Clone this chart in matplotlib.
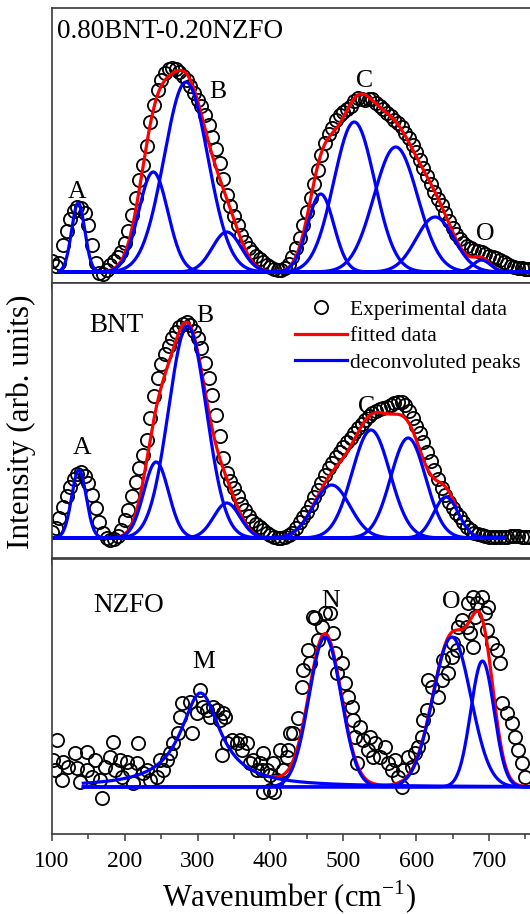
import numpy as np
import matplotlib
matplotlib.use("Agg")
import matplotlib.pyplot as plt
from matplotlib.lines import Line2D
from matplotlib.ticker import MultipleLocator

plt.rcParams['font.family'] = ['Liberation Serif', 'DejaVu Serif']
plt.rcParams['mathtext.fontset'] = 'custom'
plt.rcParams['mathtext.rm'] = 'Liberation Serif'

# wavenumber of the measured points of the two upper spectra (cm-1)
wn = np.arange(100, 756, 5)

# ---- 0.80BNT-0.20NZFO ----
comp_int = [22, 17, 20, 38, 52, 64, 72, 76, 75, 70,
            58, 38, 20, 10, 9, 13, 18, 22, 26, 31,
            40, 52, 68, 85, 103, 118, 137, 161, 178, 193,
            203, 210, 214, 215, 214, 211, 207, 203, 197, 190,
            183, 177, 168, 158, 146, 134, 120, 104, 88, 77,
            67, 58, 48, 41, 35, 31, 27, 24, 21, 18,
            16, 14, 13, 13, 15, 19, 26, 35, 45, 58,
            71, 85, 99, 113, 128, 140, 149, 155, 163, 168,
            171, 174, 177, 182, 185, 184, 183, 184, 184, 180,
            177, 174, 170, 167, 163, 160, 156, 150, 145, 138,
            131, 123, 115, 107, 99, 91, 84, 78, 70, 62,
            55, 49, 44, 40, 37, 35, 33, 32, 31, 29,
            27, 26, 25, 23, 21, 19, 17, 16, 15, 15,
            14, 14]
comp_base = 11
comp_centre = [136, 239, 284, 340, 469, 515, 572, 626, 690]
comp_height = [69, 100, 190, 40, 78, 150, 125, 55, 12]
comp_width = [9, 20, 30, 20, 18, 28, 30, 26, 12]

# ---- BNT ----
bnt_int = [26, 30, 40, 51, 62, 71, 79, 84, 86, 82,
           75, 63, 50, 36, 25, 20, 18, 19, 22, 28,
           38, 48, 62, 76, 90, 103, 118, 140, 162, 180,
           194, 204, 212, 220, 226, 231, 234, 236, 233, 227,
           220, 210, 195, 180, 163, 143, 122, 100, 85, 77,
           70, 62, 54, 48, 42, 37, 34, 31, 28, 25,
           23, 21, 20, 20, 21, 23, 25, 30, 36, 41,
           46, 53, 61, 68, 75, 83, 90, 95, 101, 106,
           111, 116, 120, 125, 130, 134, 138, 142, 145, 147,
           149, 150, 151, 153, 155, 156, 156, 153, 147, 140,
           132, 125, 116, 106, 97, 88, 79, 70, 63, 56,
           50, 45, 41, 36, 31, 28, 25, 24, 23, 22,
           21, 21, 21, 21, 21, 21, 22, 22, 22, 21,
           21, 21]
bnt_base = 20
bnt_centre = [137, 243, 286, 340, 484, 538, 589, 641]
bnt_height = [68, 76, 212, 35, 53, 108, 100, 41]
bnt_width = [10, 17, 26, 18, 25, 26, 24, 17]

# ---- NZFO ----
nzfo_wn = [101.8, 104.1, 106.4, 113.3, 115.6, 122.4, 131.6, 133.9, 138.4, 147.6,
           147.6, 154.5, 159.0, 165.9, 168.2, 172.8, 179.6, 184.2, 186.5, 193.4,
           195.7, 202.5, 207.1, 211.7, 216.3, 218.5, 225.4, 230.0, 234.6, 243.7,
           248.3, 252.9, 257.4, 262.0, 266.6, 273.5, 275.8, 278.0, 289.5, 291.8,
           298.6, 303.2, 307.8, 312.4, 317.0, 321.5, 326.1, 330.7, 333.0, 335.3,
           337.5, 339.8, 346.7, 353.6, 358.1, 360.4, 367.3, 371.9, 376.4, 381.0,
           385.6, 388.0, 390.2, 390.0, 394.8, 399.3, 399.3, 403.9, 405.0, 408.5,
           413.1, 417.6, 422.2, 424.5, 426.8, 431.3, 438.2, 442.8, 445.1, 451.9,
           454.2, 458.5, 461.1, 465.7, 470.2, 474.8, 481.7, 486.3, 488.6, 490.9,
           497.7, 502.3, 506.9, 511.4, 513.7, 516.0, 518.3, 522.9, 527.5, 534.3,
           536.6, 541.2, 543.5, 550.3, 557.2, 561.8, 566.4, 570.9, 575.5, 580.1,
           582.4, 589.2, 593.8, 598.4, 603.0, 607.6, 609.8, 614.4, 616.7, 621.3,
           630.4, 635.0, 637.3, 644.2, 648.8, 651.0, 655.6, 657.9, 662.5, 669.3,
           671.0, 673.9, 678.5, 678.5, 680.8, 683.1, 690.0, 694.5, 696.8, 699.1,
           703.7, 710.5, 715.1, 717.4, 724.3, 731.1, 735.7, 740.3, 744.8, 749.4]
nzfo_int = [74, 64, 94, 54, 72, 67, 81, 66, 52, 82,
            64, 57, 74, 54, 36, 67, 77, 92, 64, 74,
            57, 72, 64, 51, 71, 91, 61, 64, 54, 57,
            74, 64, 74, 81, 91, 101, 117, 131, 132, 101,
            121, 144, 127, 124, 117, 127, 124, 114, 79, 121,
            117, 91, 94, 91, 94, 84, 91, 71, 74, 64,
            71, 64, 81, 42, 64, 59, 44, 71, 42, 54,
            84, 64, 77, 84, 101, 101, 116, 147, 164, 184,
            171, 217, 216, 194, 207, 221, 221, 201, 181, 161,
            171, 151, 137, 127, 114, 97, 71, 107, 94, 84,
            97, 77, 91, 77, 87, 71, 64, 74, 57, 47,
            64, 77, 67, 81, 87, 97, 114, 124, 154, 147,
            137, 154, 174, 161, 177, 191, 184, 207, 214, 207,
            231, 201, 187, 237, 217, 231, 237, 221, 204, 227,
            191, 184, 171, 131, 121, 111, 97, 84, 71, 57]
nzfo_base = 47
nzfo_m = [304, 94, 33]          # Lorentzian band M: centre, height, half width
nzfo_centre = [475, 649, 691]
nzfo_height = [150, 150, 126]
nzfo_width = [22, 26, 16]

tick_pos = [100, 200, 300, 400, 500, 600, 700, 800]
tick_lab = ['100', '200', '300', '400', '500', '600', '700', '']


def gauss(x, c, a, s):
    return a * np.exp(-(x - c) ** 2 / (2.0 * s ** 2))


def lorentz(x, c, a, g):
    return a / (1.0 + ((x - c) / g) ** 2)


W, H = 530, 914
fig = plt.figure(figsize=(W / 100, H / 100), dpi=100)

left = 52 / W
width = 700 * 0.7283 / W
panel_h = 275 / H
bottoms = [(H - 283) / H, (H - 558) / H, (H - 834) / H]
axes = [fig.add_axes([left, b, width, panel_h]) for b in bottoms]

spine_col = '#3a3a3a'
for i, ax in enumerate(axes):
    ax.set_xlim(100, 800)
    ax.set_ylim(0, 275)
    ax.set_yticks([])
    ax.set_xticks(tick_pos)
    ax.set_xticklabels(tick_lab)
    ax.xaxis.set_minor_locator(MultipleLocator(50))
    ax.tick_params(axis='x', which='both', direction='out', top=False,
                   color=spine_col, width=1.1, labelbottom=(i == 2),
                   labelsize=17, pad=7)
    ax.tick_params(axis='x', which='major', length=5)
    ax.tick_params(axis='x', which='minor', length=3.5)
    for sp in ax.spines.values():
        sp.set_color(spine_col)
        sp.set_linewidth(1.2)

mk = dict(marker='o', ls='none', ms=9.5, mfc='none', mec='black', mew=1.3)
lw = 2.3

# top: composite
ax = axes[0]
ax.plot(wn, comp_int, **mk)
xb = np.linspace(110, 800, 700)
total = np.full_like(xb, comp_base, dtype=float)
for c, a, s in zip(comp_centre, comp_height, comp_width):
    total += gauss(xb, c, a, s)
xr = xb >= 165
ax.plot(xb[xr], total[xr], color='red', lw=lw)
for c, a, s in zip(comp_centre, comp_height, comp_width):
    ax.plot(xb, comp_base + gauss(xb, c, a, s), color='blue', lw=lw)

# middle: BNT
ax = axes[1]
ax.plot(wn, bnt_int, **mk)
xb = np.linspace(102, 720, 700)
total = np.full_like(xb, bnt_base, dtype=float)
for c, a, s in zip(bnt_centre, bnt_height, bnt_width):
    total += gauss(xb, c, a, s)
xr = (xb >= 190) & (xb <= 655)
ax.plot(xb[xr], total[xr], color='red', lw=lw)
for c, a, s in zip(bnt_centre, bnt_height, bnt_width):
    ax.plot(xb, bnt_base + gauss(xb, c, a, s), color='blue', lw=lw)

# bottom: NZFO
ax = axes[2]
ax.plot(nzfo_wn, nzfo_int, **mk)
xb = np.linspace(143, 800, 700)
total = nzfo_base + lorentz(xb, *nzfo_m)
for c, a, s in zip(nzfo_centre, nzfo_height, nzfo_width):
    total = total + gauss(xb, c, a, s)
xr = xb >= 395
ax.plot(xb[xr], total[xr], color='red', lw=lw)
ax.plot(xb, nzfo_base + lorentz(xb, *nzfo_m), color='blue', lw=lw)
for c, a, s in zip(nzfo_centre, nzfo_height, nzfo_width):
    ax.plot(xb, nzfo_base + gauss(xb, c, a, s), color='blue', lw=lw)

# labels
fs_name = 19.5
fs_pk = 18.5
axes[0].text(107, 244.7, '0.80BNT-0.20NZFO', fontsize=fs_name, va='baseline')
for t, x, y in [('A', 134.3, 84.7), ('B', 328.4, 184.7), ('C', 529.8, 196.3), ('O', 694.5, 43)]:
    axes[0].text(x, y, t, fontsize=fs_pk, ha='center', va='baseline')
axes[1].text(188.8, 226.3, 'BNT', fontsize=fs_name, ha='center', va='baseline')
for t, x, y in [('A', 140.8, 104), ('B', 310, 236.3), ('C', 532, 144.7)]:
    axes[1].text(x, y, t, fontsize=fs_pk, ha='center', va='baseline')
axes[2].text(204.8, 222.3, 'NZFO', fontsize=fs_name, ha='center', va='baseline')
for t, x, y in [('M', 308.7, 165.7), ('N', 482.6, 227.3), ('O', 647.8, 225.7)]:
    axes[2].text(x, y, t, fontsize=fs_pk, ha='center', va='baseline')

handles = [Line2D([], [], **mk),
           Line2D([], [], color='red', lw=lw),
           Line2D([], [], color='blue', lw=lw)]
axes[1].legend(handles, ['Experimental data', 'fitted data', 'deconvoluted peaks'],
               loc='upper left', bbox_to_anchor=(0.4767, 0.94), frameon=False,
               fontsize=15.5, borderpad=0, borderaxespad=0, handlelength=2.4,
               handletextpad=0.15, labelspacing=0.3)

fig.text(21 / W, 1 - 422 / H, 'Intensity (arb. units)', rotation=90,
         fontsize=22.5, ha='center', va='center')
fig.text(289 / W, 1 - 897 / H, 'Wavenumber (cm$^{-1}$)', fontsize=22,
         ha='center', va='center')

fig.savefig('out.png', dpi=100)
